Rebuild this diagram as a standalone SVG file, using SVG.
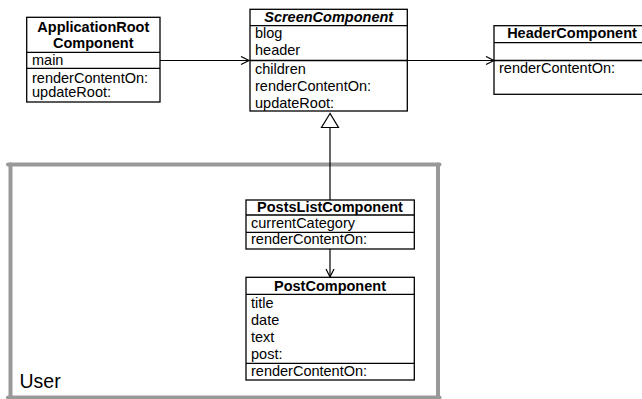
<svg xmlns="http://www.w3.org/2000/svg" width="642" height="399" viewBox="0 0 642 399">
<style>
.box{fill:#fff;stroke:#000;stroke-width:1.3}
.sep{stroke:#000;stroke-width:1.3}
.t{font-family:"Liberation Sans",Arial,sans-serif;font-size:14.5px;fill:#000}
.b{font-weight:bold;text-anchor:middle}
.i{font-style:italic}
.edge{stroke:#000;stroke-width:1.2;fill:none}
.frame{stroke:#999;stroke-width:4;fill:none;stroke-linecap:round}
</style>
<defs>
<marker id="open" markerWidth="12" markerHeight="12" refX="9" refY="5" orient="auto" markerUnits="userSpaceOnUse">
<path d="M1,1 L9,5 L1,9" fill="none" stroke="#000" stroke-width="1.2"/>
</marker>
</defs>
<rect x="0" y="0" width="642" height="399" fill="#fff"/>
<g id="user-frame">
<line class="frame" x1="8" y1="164.5" x2="439.5" y2="164.5"/>
<line class="frame" x1="10.5" y1="164.5" x2="10.5" y2="401"/>
<line class="frame" x1="438" y1="164.5" x2="438" y2="401"/>
<line class="frame" x1="8" y1="397.5" x2="439.5" y2="397.5"/>
<text class="t" x="19.5" y="388" style="font-size:19.5px">User</text>
</g>
<g id="connectors">
<line class="edge" x1="160" y1="60.5" x2="249" y2="60.5" marker-end="url(#open)"/>
<line class="edge" x1="407" y1="60.5" x2="494" y2="60.5" marker-end="url(#open)"/>
<line class="edge" x1="330" y1="127" x2="330" y2="200"/>
<path d="M330,113.5 L321.5,127.5 L338.5,127.5 Z" fill="#fff" stroke="#000" stroke-width="1.2"/>
<line class="edge" x1="330" y1="249" x2="330" y2="277" marker-end="url(#open)"/>
</g>
<g id="ApplicationRootComponent">
<rect class="box" x="26.7" y="17.3" width="133.3" height="84.7"/>
<line class="sep" x1="26.7" y1="52.3" x2="160" y2="52.3"/>
<line class="sep" x1="26.7" y1="68.3" x2="160" y2="68.3"/>
<text class="t b" x="93.3" y="31.5">ApplicationRoot</text>
<text class="t b" x="93.3" y="47.5">Component</text>
<text class="t" x="32" y="65">main</text>
<text class="t" x="32" y="82.5">renderContentOn:</text>
<text class="t" x="32" y="97">updateRoot:</text>
</g>
<g id="ScreenComponent">
<rect class="box" x="250" y="9.3" width="157.3" height="101.7"/>
<line class="sep" x1="250" y1="25.7" x2="407.3" y2="25.7"/>
<line class="sep" x1="250" y1="60.5" x2="407.3" y2="60.5"/>
<text class="t b i" x="328.7" y="22">ScreenComponent</text>
<text class="t" x="255" y="37.5">blog</text>
<text class="t" x="255" y="55">header</text>
<text class="t" x="255" y="74">children</text>
<text class="t" x="255" y="91">renderContentOn:</text>
<text class="t" x="255" y="107.5">updateRoot:</text>
</g>
<g id="HeaderComponent">
<rect class="box" x="494" y="25.7" width="156" height="68.6"/>
<line class="sep" x1="494" y1="42.7" x2="650" y2="42.7"/>
<line class="sep" x1="494" y1="60.5" x2="650" y2="60.5"/>
<text class="t b" x="572" y="38">HeaderComponent</text>
<text class="t" x="499" y="73">renderContentOn:</text>
</g>
<g id="PostsListComponent">
<rect class="box" x="246" y="200" width="168.3" height="49"/>
<line class="sep" x1="246" y1="215" x2="414.3" y2="215"/>
<line class="sep" x1="246" y1="232.3" x2="414.3" y2="232.3"/>
<text class="t b" x="330" y="212">PostsListComponent</text>
<text class="t" x="251" y="227.5">currentCategory</text>
<text class="t" x="251" y="244">renderContentOn:</text>
</g>
<g id="PostComponent">
<rect class="box" x="246" y="277.3" width="168.3" height="102.7"/>
<line class="sep" x1="246" y1="294.3" x2="414.3" y2="294.3"/>
<line class="sep" x1="246" y1="363.3" x2="414.3" y2="363.3"/>
<text class="t b" x="330" y="291">PostComponent</text>
<text class="t" x="251" y="307.5">title</text>
<text class="t" x="251" y="324.5">date</text>
<text class="t" x="251" y="342">text</text>
<text class="t" x="251" y="358.5">post:</text>
<text class="t" x="251" y="375.5">renderContentOn:</text>
</g>
</svg>
